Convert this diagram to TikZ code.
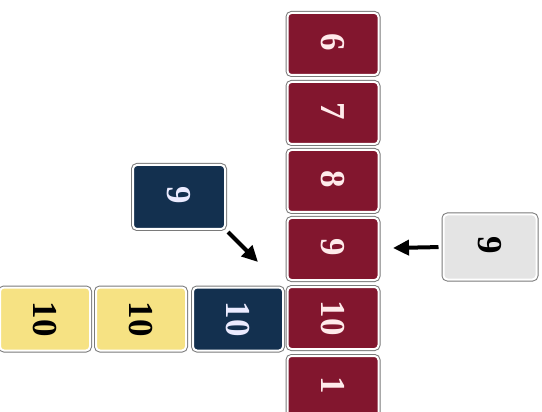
\documentclass[tikz,border=0pt]{standalone}
\usepackage{fontspec}
\setmainfont{Liberation Serif}
\usetikzlibrary{arrows.meta}
\definecolor{cardred}{HTML}{82162E}
\definecolor{cardblue}{HTML}{13304F}
\definecolor{cardyellow}{HTML}{F6E283}
\definecolor{cardgray}{HTML}{E4E4E4}
\definecolor{framegray}{HTML}{7A7A7A}
\newcommand{\cardtext}[1]{\rotatebox[origin=c]{-90}{#1}}
\tikzset{
  card/.style={rectangle, rounded corners=4pt, minimum width=90pt, minimum height=62pt,
    draw=white, line width=2pt, inner sep=0pt,
    preaction={draw=framegray, line width=4pt},
    font=\fontsize{35}{35}\selectfont\bfseries},
  redcard/.style={card, fill=cardred, text=white!92!red},
  bluecard/.style={card, fill=cardblue, text=white!92!blue},
  yellowcard/.style={card, fill=cardyellow, text=black},
  graycard/.style={card, fill=cardgray, text=black},
  arr/.style={line width=4pt, -{Triangle[length=16pt 0 0,width=15pt 0 0]}}
}
\begin{document}
\begin{tikzpicture}[x=1pt,y=-1pt]
\useasboundingbox (0,0) rectangle (542,412);
\fill[white] (0,0) rectangle (542,412);
% red column
\node[redcard, minimum width=91pt, minimum height=62pt] (r6) at (333,44) {\cardtext{6}};
\node[redcard, minimum width=91pt, minimum height=62pt] (r7) at (333,113) {\cardtext{7}};
\node[redcard, minimum width=91pt, minimum height=62pt] (r8) at (333,181) {\cardtext{8}};
\node[redcard, minimum width=91pt, minimum height=62pt] (r9) at (333,249) {\cardtext{9}};
\node[redcard, minimum width=91pt, minimum height=62pt] (r10) at (333,318) {\cardtext{10}};
\node[redcard, minimum width=91pt, minimum height=62pt] (r1) at (333,387) {\cardtext{1}};
% row of tens
\node[bluecard, minimum width=90pt, minimum height=63pt] (b10) at (238,319) {\cardtext{10}};
\node[yellowcard, minimum width=90pt, minimum height=63pt] (y10b) at (141,319) {\cardtext{10}};
\node[yellowcard, minimum width=90pt, minimum height=63pt] (y10a) at (45,319) {\cardtext{10}};
% loose cards
\node[bluecard, minimum width=92pt, minimum height=64pt] (b9) at (179,197) {\cardtext{9}};
\node[graycard, minimum width=93pt, minimum height=65pt] (g9) at (490,247) {\cardtext{9}};
% arrows
\coordinate (t1) at (258,262);
\coordinate (t2) at (393,248);
\draw[arr, shorten <=3pt] (b9.south east) -- (t1);
\draw[arr, shorten <=4pt] (g9.west) -- (t2);
\end{tikzpicture}
\end{document}
